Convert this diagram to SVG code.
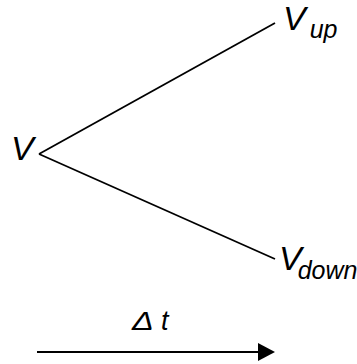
<svg xmlns="http://www.w3.org/2000/svg" width="357" height="364" viewBox="0 0 357 364">
<defs>
<style>
.lbl{font-family:"Liberation Sans",Arial,sans-serif;font-style:italic;fill:#000;font-size:34px}
.sub{font-size:25px}
.dt{font-size:27px}
.ln{stroke:#000;stroke-width:1.8;fill:none}
</style>
<marker id="ah" markerWidth="17" markerHeight="18" refX="0" refY="9" orient="auto" markerUnits="userSpaceOnUse">
<path d="M0,0 L17,9 L0,18 Z" fill="#000"/>
</marker>
</defs>
<rect width="357" height="364" fill="#fff"/>
<g id="connectors">
<line class="ln" x1="275" y1="23" x2="39" y2="154"/>
<line class="ln" x1="39" y1="154" x2="275" y2="259"/>
<line class="ln" x1="37" y1="352" x2="258" y2="352" stroke-width="2" marker-end="url(#ah)"/>
</g>
<g id="node-v"><text class="lbl" x="11" y="160">V</text></g>
<g id="node-vup"><text class="lbl" x="283" y="30">V<tspan class="sub" dx="4" dy="8">up</tspan></text></g>
<g id="node-vdown"><text class="lbl" x="279" y="270">V<tspan class="sub" dx="-4" dy="9">down</tspan></text></g>
<g id="label-dt"><text class="lbl" transform="translate(132,330) scale(1.3,1)" x="0" y="0" style="font-size:25px">Δ</text><text class="lbl dt" x="161" y="330">t</text></g>
</svg>
